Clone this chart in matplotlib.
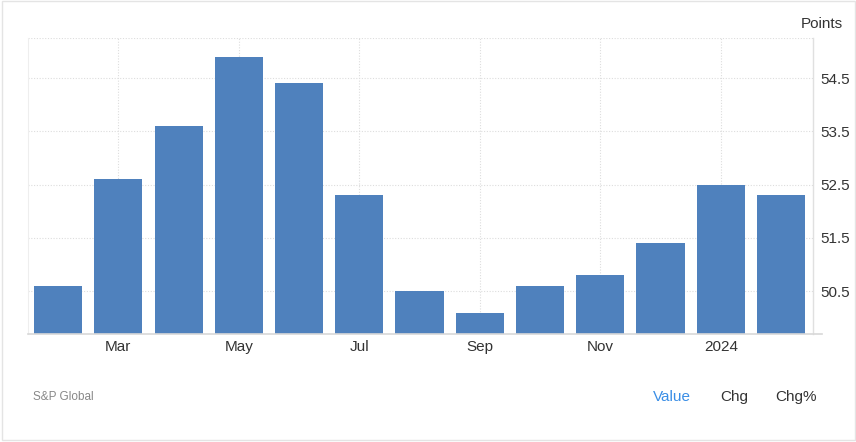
import matplotlib
matplotlib.use("Agg")
import matplotlib.pyplot as plt
from matplotlib.lines import Line2D
from matplotlib.patches import Rectangle

plt.rcParams['font.family'] = ['Liberation Sans', 'DejaVu Sans']

months = ["Feb", "Mar", "Apr", "May", "Jun", "Jul", "Aug", "Sep", "Oct", "Nov", "Dec", "Jan", "Feb"]
values = [50.6, 52.6, 53.6, 54.9, 54.4, 52.3, 50.5, 50.1, 50.6, 50.8, 51.4, 52.5, 52.3]
tick_idx = [1, 3, 5, 7, 9, 11]
tick_labels = ["Mar", "May", "Jul", "Sep", "Nov", "2024"]
yticks = [50.5, 51.5, 52.5, 53.5, 54.5]

fig = plt.figure(figsize=(8.56, 4.42), dpi=100)
ax = fig.add_axes([28/856, 1-334/442, (813-28)/856, (334-38)/442])

x = list(range(len(values)))
ax.bar(x, values, width=0.8, color="#4f81bd", zorder=3)
ax.set_xlim(-0.5, 12.53)
ax.set_ylim(49.698, 55.251)

ax.set_xticks(tick_idx)
ax.set_xticklabels(tick_labels, fontsize=11, color="#333333")
ax.set_yticks(yticks)
ax.set_yticklabels([f"{v:.1f}" for v in yticks], fontsize=11, color="#333333")
ax.yaxis.tick_right()
ax.tick_params(axis='both', length=0, pad=4)
ax.tick_params(axis='y', pad=5)

ax.grid(True, color="#dddddd", linestyle=(0, (1, 1.5)), linewidth=0.8, zorder=0)
for s in ["left", "top"]:
    ax.spines[s].set_visible(False)
ax.spines["right"].set_color("#e0e0e0")
ax.spines["right"].set_linewidth(1)
ax.spines["bottom"].set_visible(False)
ax.spines["left"].set_visible(True)
ax.spines["left"].set_color("#eeeeee")
ax.spines["left"].set_linewidth(0.8)
# top dotted border
ax.axhline(55.251, color="#dddddd", linestyle=(0, (1, 1.5)), linewidth=0.8, zorder=1)

# bottom axis line extending a little beyond the plot
fig.add_artist(Line2D([28/856, 822/856], [1-334/442, 1-334/442], color="#d8d8d8", linewidth=1.2))

fig.text(843/856, 1-24/442, "Points", ha="right", va="center", fontsize=11, color="#333333")
fig.text(33/856, 1-397/442, "S&P Global", ha="left", va="center", fontsize=8.5, color="#888888")
fig.text(653/856, 1-397/442, "Value", ha="left", va="center", fontsize=11, color="#3a8ee6")
fig.text(720/856, 1-397/442, "Chg", ha="left", va="center", fontsize=11, color="#333333")
fig.text(775/856, 1-397/442, "Chg%", ha="left", va="center", fontsize=11, color="#333333")

# outer frame
fig.add_artist(Rectangle((2/856, 2/442), 853/856, 439/442, fill=False, edgecolor="#e4e4e4", linewidth=1))

fig.savefig("out.png", dpi=100)
